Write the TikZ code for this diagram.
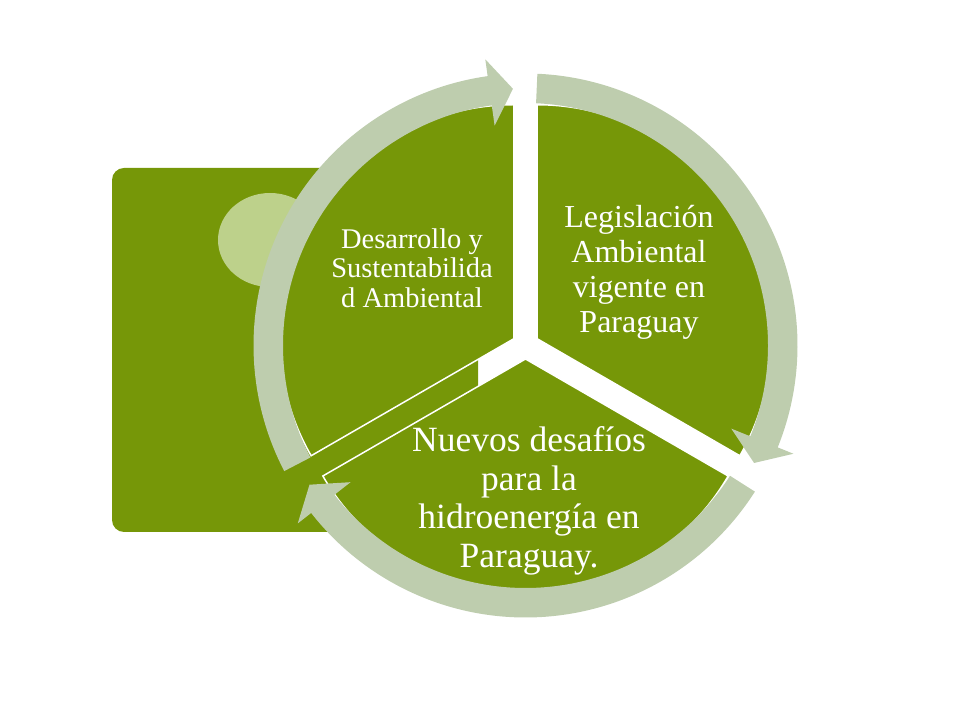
\documentclass[tikz,border=0pt]{standalone}
\usepackage{fontspec}
\setmainfont{Liberation Serif}
\usepackage{tikz}

\definecolor{leaf}{RGB}{118,151,8}
\definecolor{pale}{RGB}{190,205,174}
\definecolor{bud}{RGB}{189,209,139}

\begin{document}
\begin{tikzpicture}[x=1pt, y=1pt]
        \tikzstyle{sector}=[fill=leaf, draw=white, line width=1.5pt]
        \tikzstyle{ringarrow}=[fill=pale]
        \tikzstyle{label}=[text=white, align=center, inner sep=0pt]

        \useasboundingbox (0,0) rectangle (960,720);

        % backdrop
        \fill[leaf, rounded corners=12pt] (112,188) rectangle (478,552);
        \fill[bud] (270,480) ellipse [x radius=52, y radius=47];

        \coordinate (c) at (525.5,374.5);

        \begin{scope}[shift={(c)}]
            % three slices, pulled apart
            \path[sector] (30:13.5) -- ++(-30:234) arc[start angle=-30, end angle=90, radius=234] -- cycle;
            \path[sector] (150:13.5) -- ++(90:234) arc[start angle=90, end angle=210, radius=234] -- cycle;
            \path[sector] (270:13.5) -- ++(210:234) arc[start angle=210, end angle=330, radius=234] -- cycle;

            % circular arrows
            \fill[ringarrow] (207.5:272) arc[start angle=207.5, end angle=98, radius=272]
                -- (98:289) -- (92.8:257) -- (98:222)
                -- (98:242.5) arc[start angle=98, end angle=207.5, radius=242.5] -- cycle;
            \fill[ringarrow] (87.5:272) arc[start angle=87.5, end angle=-22, radius=272]
                -- (-22:289) -- (-27.2:257) -- (-22:222)
                -- (-22:242.5) arc[start angle=-22, end angle=87.5, radius=242.5] -- cycle;
            \fill[ringarrow] (-32.5:272) arc[start angle=-32.5, end angle=-142, radius=272]
                -- (-142:289) -- (-147.2:257) -- (-142:222)
                -- (-142:242.5) arc[start angle=-142, end angle=-32.5, radius=242.5] -- cycle;
        \end{scope}

        \node (desarrollo) [label, font=\fontsize{28.5}{29.5}\selectfont] at (412,452)
            {Desarrollo y\\Sustentabilida\\d Ambiental};
        \node (legislacion) [label, font=\fontsize{32}{35}\selectfont] at (639,448)
            {Legislación\\Ambiental\\vigente en\\Paraguay};
        \node (nuevos) [label, font=\fontsize{35.5}{38.5}\selectfont] at (529,219)
            {Nuevos desafíos\\para la\\hidroenergía en\\Paraguay.};

\end{tikzpicture}
\end{document}
